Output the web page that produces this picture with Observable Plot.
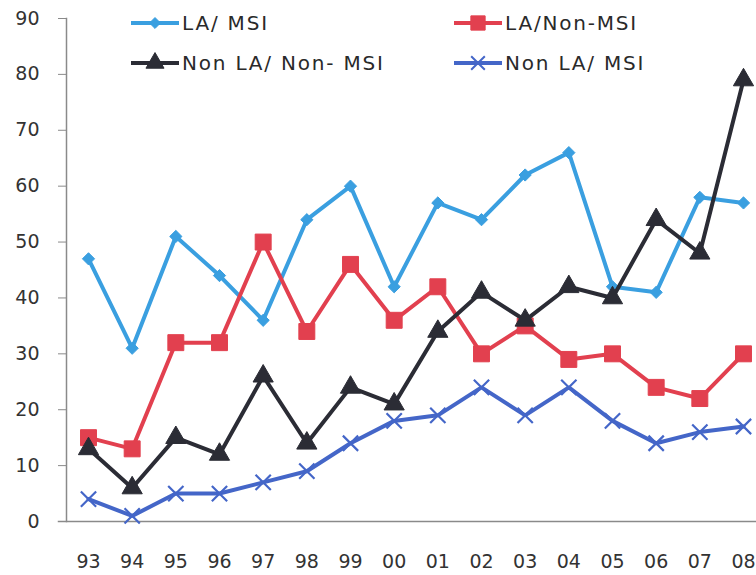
<!DOCTYPE html>
<html>
<head>
<meta charset="utf-8">
<script src="https://cdn.jsdelivr.net/npm/d3@7"></script>
<script src="https://cdn.jsdelivr.net/npm/@observablehq/plot@0.6"></script>
<style>
  html, body { margin: 0; padding: 0; background: #fff; overflow: hidden; }
  #wrap { position: relative; width: 756px; height: 575px; font-family: "DejaVu Sans", sans-serif; }
  .leg { position: absolute; display: flex; align-items: center; font-size: 20px; letter-spacing: 1.8px; color: #2a2a2a; white-space: nowrap; }
  .leg svg { display: block; margin-right: 2px; }
</style>
</head>
<body>
<div id="wrap"></div>
<script>
const years = ["93","94","95","96","97","98","99","00","01","02","03","04","05","06","07","08"];
const laMsi      = [47, 31, 51, 44, 36, 54, 60, 42, 57, 54, 62, 66, 42, 41, 58, 57];
const laNonMsi   = [15, 13, 32, 32, 50, 34, 46, 36, 42, 30, 35, 29, 30, 24, 22, 30];
const nonLaNonMsi= [13,  6, 15, 12, 26, 14, 24, 21, 34, 41, 36, 42, 40, 54, 48, 79];
const nonLaMsi   = [ 4,  1,  5,  5,  7,  9, 14, 18, 19, 24, 19, 24, 18, 14, 16, 17];
const yTicks = [0,10,20,30,40,50,60,70,80,90];

const series = [
  {name: "LA/ MSI", values: laMsi, color: "#3a9fe0", symbol: "diamond2", r: 5.5, fill: true},
  {name: "LA/Non-MSI", values: laNonMsi, color: "#e2404f", symbol: "square", r: 9, fill: true},
  {name: "Non LA/ Non- MSI", values: nonLaNonMsi, color: "#2b2c35", symbol: "triangle", r: 7.5, fill: true},
  {name: "Non LA/ MSI", values: nonLaMsi, color: "#4466c8", symbol: "times", r: 7, fill: false}
];

const marks = [];
marks.push(Plot.frame({anchor: "left", stroke: "#8a8a8a", strokeWidth: 1.5}));
marks.push(Plot.frame({anchor: "bottom", stroke: "#8a8a8a", strokeWidth: 1.5, insetLeft: -8}));
marks.push(Plot.axisY({ticks: yTicks, tickSize: 8, tickPadding: 19, fontSize: 19, stroke: "#8a8a8a", color: "#333", label: null}));
marks.push(Plot.axisX({tickSize: 0, tickPadding: 33, fontSize: 19, color: "#333", label: null}));
for (const s of series) {
  const data = years.map((y, i) => ({x: y, v: s.values[i]}));
  marks.push(Plot.line(data, {x: "x", y: "v", stroke: s.color, strokeWidth: 4, strokeLinejoin: "miter"}));
  marks.push(Plot.dot(data, {x: "x", y: "v", symbol: () => s.symbol, r: s.r,
    fill: s.fill ? s.color : "none", stroke: s.color, strokeWidth: s.fill ? 1 : 2.2}));
}

const chart = Plot.plot({
  width: 756, height: 575,
  marginLeft: 66, marginTop: 18, marginBottom: 54, marginRight: 0,
  style: {fontFamily: "DejaVu Sans, sans-serif", background: "#fff", overflow: "hidden"},
  x: {type: "point", domain: years, range: [88, 743], padding: 0, round: false, axis: null},
  y: {domain: [0, 90], range: [521, 18], axis: null},
  symbol: {type: "identity"},
  marks
});
const wrap = document.getElementById("wrap");
wrap.appendChild(chart);

// legend overlay
const legPos = [
  {s: series[0], left: 130, top: 11},
  {s: series[1], left: 453, top: 11},
  {s: series[2], left: 130, top: 51},
  {s: series[3], left: 453, top: 51}
];
for (const p of legPos) {
  const div = document.createElement("div");
  div.className = "leg";
  div.style.left = p.left + "px";
  div.style.top = p.top + "px";
  const svg = d3.create("svg").attr("width", 50).attr("height", 24);
  svg.append("line").attr("x1", 1).attr("x2", 49).attr("y1", 12).attr("y2", 12)
    .attr("stroke", p.s.color).attr("stroke-width", 4);
  const symMap = {diamond2: d3.symbolDiamond2, square: d3.symbolSquare, triangle: d3.symbolTriangle, times: d3.symbolTimes};
  svg.append("path").attr("transform", "translate(25,12)")
    .attr("d", d3.symbol(symMap[p.s.symbol], Math.PI * p.s.r * p.s.r * 0.8)())
    .attr("fill", p.s.fill ? p.s.color : "none").attr("stroke", p.s.color).attr("stroke-width", p.s.fill ? 1 : 2);
  div.appendChild(svg.node());
  const span = document.createElement("span");
  span.textContent = p.s.name;
  div.appendChild(span);
  wrap.appendChild(div);
}
</script>
</body>
</html>
